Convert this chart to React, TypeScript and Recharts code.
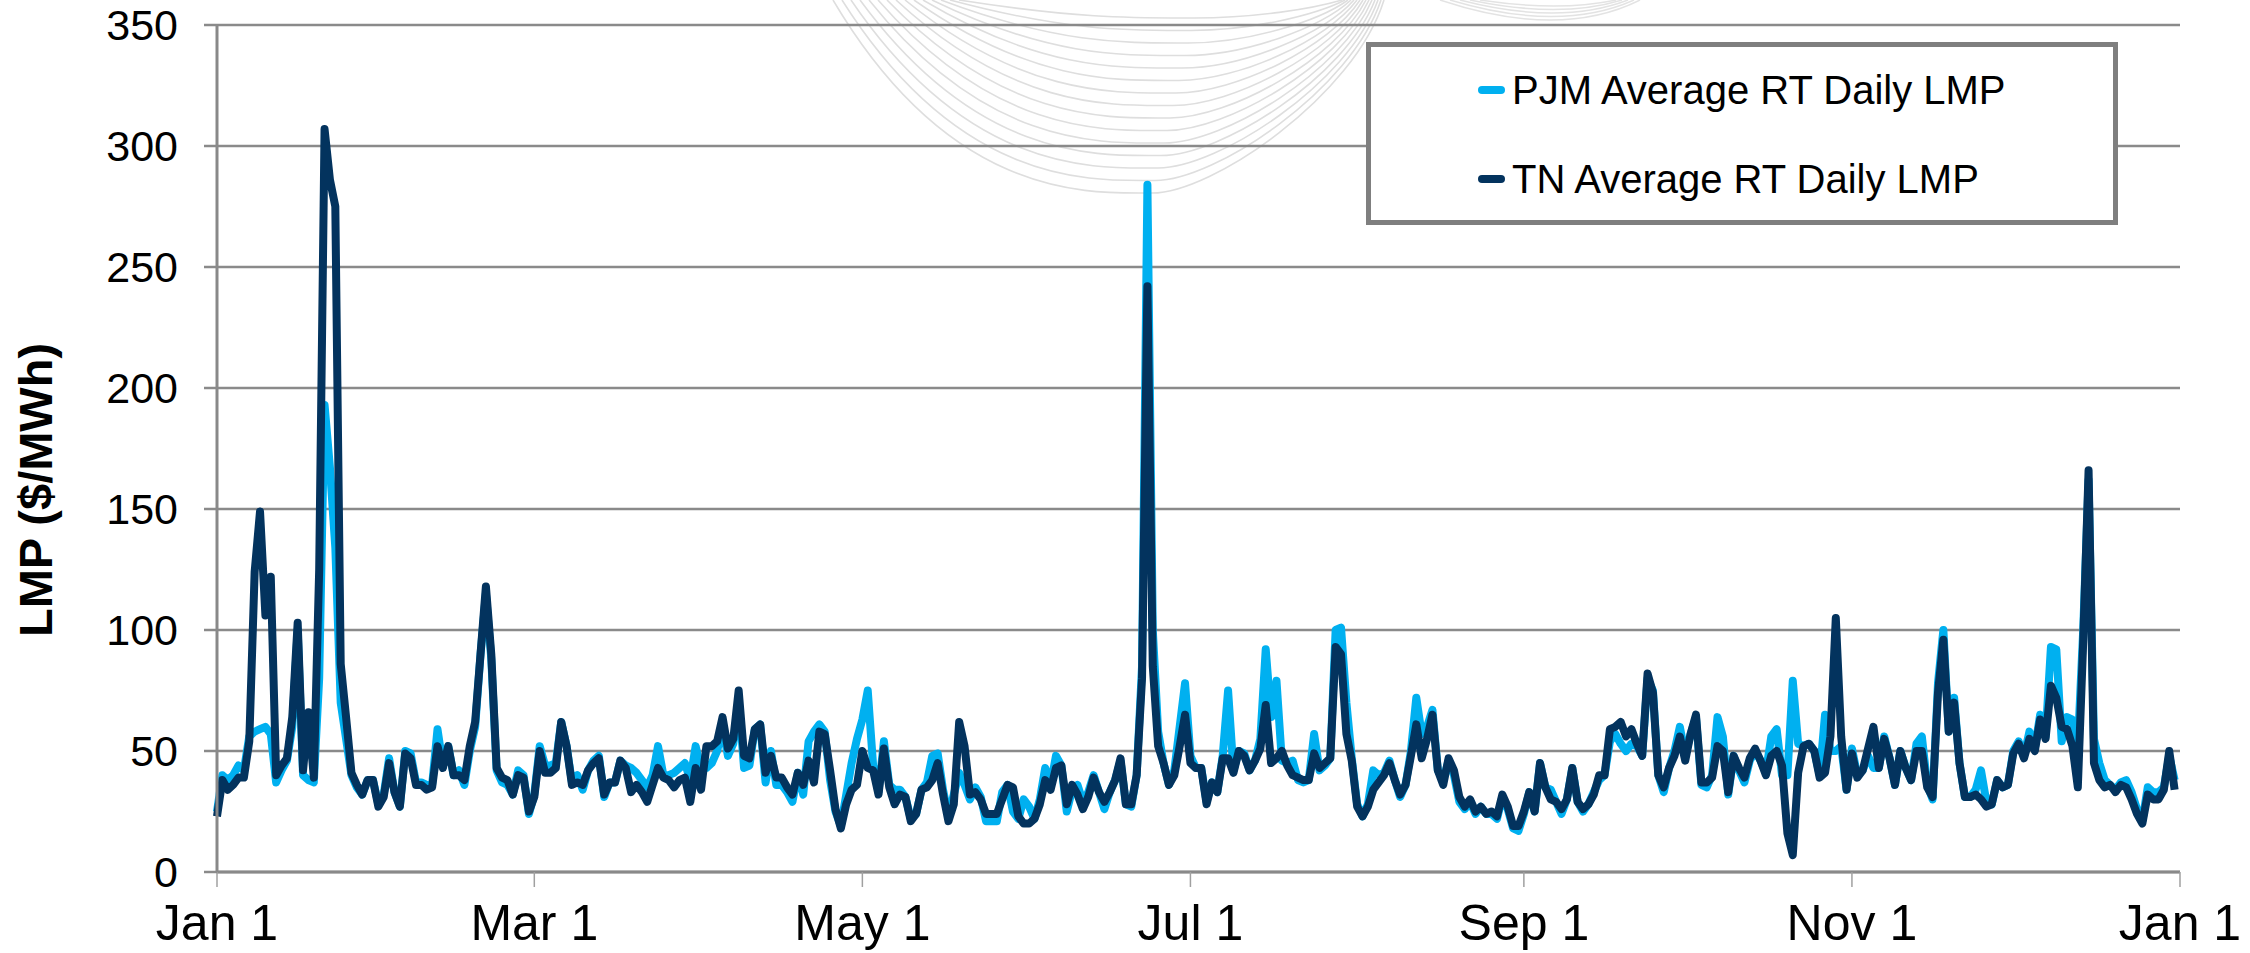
import React from 'react';
import { LineChart, Line, XAxis, YAxis, CartesianGrid } from 'recharts';

// day index 0 = Jan 1, one value per day
const tickDays = [0, 59, 120, 181, 243, 304, 365];
const tickLabels = ['Jan 1', 'Mar 1', 'May 1', 'Jul 1', 'Sep 1', 'Nov 1', 'Jan 1'];
const yTicks = [0, 50, 100, 150, 200, 250, 300, 350];

const pjmDaily = [
  25, 40, 38, 40, 44, 42, 56, 58, 59, 60,
  57, 37, 42, 46, 60, 100, 40, 38, 37, 80,
  193, 167, 134, 70, 55, 40, 35, 32, 38, 38,
  28, 32, 47, 33, 27, 50, 49, 37, 37, 36,
  36, 59, 44, 52, 40, 42, 36, 50, 60, 90,
  115, 88, 42, 37, 36, 32, 42, 40, 24, 32,
  52, 44, 44, 45, 62, 52, 37, 40, 34, 42,
  46, 48, 31, 37, 37, 46, 44, 43, 41, 38,
  35, 40, 52, 40, 40, 41, 43, 45, 38, 52,
  42, 43, 45, 50, 60, 48, 53, 71, 43, 44,
  59, 61, 37, 50, 36, 36, 33, 29, 41, 32,
  54, 58, 61, 58, 38, 25, 19, 32, 45, 55,
  63, 75, 44, 33, 54, 36, 34, 34, 31, 22,
  24, 34, 37, 48, 49, 34, 23, 32, 41, 36,
  30, 35, 31, 21, 21, 21, 33, 36, 25, 22,
  30, 27, 22, 30, 43, 36, 48, 44, 25, 34,
  36, 29, 33, 40, 33, 26, 33, 38, 46, 28,
  27, 40, 85, 284, 100, 58, 45, 36, 42, 60,
  78, 48, 43, 43, 29, 37, 33, 48, 75, 42,
  50, 49, 42, 46, 55, 92, 64, 79, 46, 45,
  46, 38, 37, 38, 57, 42, 44, 47, 100, 101,
  70, 47, 28, 23, 28, 42, 40, 41, 46, 38,
  31, 36, 50, 72, 57, 60, 67, 42, 38, 46,
  40, 29, 26, 29, 24, 27, 24, 24, 22, 31,
  26, 18, 17, 24, 33, 25, 45, 35, 34, 29,
  24, 30, 43, 29, 25, 28, 33, 38, 40, 54,
  57, 53, 50, 53, 52, 48, 80, 75, 40, 33,
  43, 50, 60, 48, 57, 64, 36, 35, 40, 64,
  56, 32, 48, 42, 37, 46, 50, 46, 41, 56,
  59, 40, 40, 79, 53, 52, 53, 50, 40, 65,
  50, 50, 52, 34, 51, 40, 42, 48, 43, 43,
  56, 47, 36, 50, 43, 38, 53, 56, 36, 30,
  78, 100, 58, 72, 45, 31, 31, 34, 42, 29,
  28, 38, 35, 36, 50, 54, 48, 58, 51, 65,
  56, 93, 92, 54, 64, 63, 52, 100, 162, 55,
  45, 38, 36, 34, 37, 38, 33, 26, 21, 35,
  33, 33, 35, 48, 38,
];

const tnDaily = [
  23, 38, 34, 36, 39, 39, 54, 124, 149, 106,
  122, 40, 44, 47, 64, 103, 42, 66, 39, 125,
  307, 286, 275, 86, 64, 41, 36, 32, 38, 38,
  27, 31, 45, 33, 27, 49, 47, 36, 36, 34,
  35, 52, 43, 52, 40, 40, 38, 52, 62, 90,
  118, 90, 43, 39, 38, 32, 40, 39, 25, 31,
  50, 41, 41, 43, 62, 52, 36, 37, 36, 42,
  45, 47, 32, 37, 37, 46, 43, 33, 36, 33,
  29, 36, 43, 39, 38, 35, 38, 39, 29, 43,
  34, 52, 52, 54, 64, 51, 55, 75, 48, 47,
  59, 61, 41, 48, 39, 39, 35, 32, 41, 36,
  46, 37, 58, 57, 42, 26, 18, 28, 34, 36,
  50, 43, 42, 32, 51, 35, 28, 32, 31, 21,
  24, 34, 35, 38, 45, 32, 21, 28, 62, 52,
  32, 33, 30, 24, 24, 24, 30, 36, 35, 23,
  20, 20, 22, 28, 38, 34, 43, 44, 28, 36,
  32, 26, 31, 39, 33, 29, 33, 38, 47, 28,
  28, 40, 80, 242, 85, 52, 45, 36, 40, 52,
  65, 45, 43, 43, 28, 37, 33, 47, 47, 41,
  50, 48, 42, 46, 51, 69, 45, 47, 50, 44,
  40, 39, 38, 38, 49, 43, 45, 47, 93, 90,
  57, 46, 27, 23, 27, 34, 37, 40, 45, 38,
  32, 36, 48, 61, 47, 55, 65, 42, 36, 47,
  42, 31, 27, 30, 25, 27, 24, 25, 23, 32,
  27, 19, 19, 25, 33, 25, 45, 35, 30, 29,
  26, 30, 43, 29, 26, 28, 32, 40, 40, 59,
  60, 62, 56, 59, 53, 48, 82, 74, 40, 35,
  43, 48, 56, 46, 57, 65, 37, 37, 39, 52,
  50, 33, 48, 43, 39, 47, 51, 46, 40, 48,
  50, 44, 16, 7, 41, 52, 53, 50, 39, 41,
  56, 105, 56, 34, 49, 39, 42, 51, 60, 43,
  55, 47, 36, 50, 43, 38, 50, 50, 35, 31,
  74, 96, 58, 70, 45, 31, 31, 32, 30, 27,
  28, 38, 35, 36, 49, 53, 47, 55, 50, 63,
  55, 77, 72, 60, 59, 52, 35, 95, 166, 45,
  38, 35, 36, 33, 36, 35, 30, 24, 20, 32,
  30, 30, 34, 50, 34,
];

const series = [
  { key: 'pjm', name: 'PJM Average RT Daily LMP', color: '#00B0F0' },
  { key: 'tn', name: 'TN Average RT Daily LMP', color: '#03335E' },
];

const data = pjmDaily.map((v, i) => ({ day: i, pjm: v, tn: tnDaily[i] }));

const FONT = '"Liberation Sans", Arial, sans-serif';
const GRID = '#8a8a8a';

// faint background swirl behind the plot
const Watermark = () => {
  const arcs = [];
  for (let k = 0; k < 15; k++) {
    const x0 = 833 + k * 9;
    const x1 = 1384 - k * 3;
    const yb = 193 - k * 12.5;
    const xb = 1152 + k * 3;
    arcs.push(
      <path
        key={k}
        d={`M ${x0} 0 C ${x0 + 120} ${yb * 1.05}, ${xb - 60} ${yb}, ${xb} ${yb} S ${x1 - 30} ${yb * 0.5}, ${x1} 0`}
        fill="none"
        stroke="#dedede"
        strokeWidth={1.6}
      />
    );
  }
  for (let k = 0; k < 5; k++) {
    arcs.push(
      <path
        key={'r' + k}
        d={`M ${1440 + k * 10} 0 Q ${1560} ${40 - k * 7}, ${1640 - k * 6} 0`}
        fill="none"
        stroke="#e3e3e3"
        strokeWidth={1.5}
      />
    );
  }
  return (
    <svg width={2250} height={953} style={{ position: 'absolute', left: 0, top: 0 }}>
      {arcs}
    </svg>
  );
};

const LegendBox = () => (
  <div
    style={{
      position: 'absolute',
      left: 1366,
      top: 42,
      width: 742,
      height: 173,
      border: '5px solid #7f7f7f',
      background: '#fff',
      fontFamily: FONT,
      fontSize: 40,
      color: '#000',
    }}
  >
    {series.map((s, i) => (
      <div
        key={s.key}
        style={{
          position: 'absolute',
          left: 107,
          top: i === 0 ? 20 : 109,
          height: 46,
          display: 'flex',
          alignItems: 'center',
          whiteSpace: 'nowrap',
        }}
      >
        <div style={{ width: 27, height: 8, borderRadius: 4, background: s.color, marginRight: 7 }} />
        <span>{s.name}</span>
      </div>
    ))}
  </div>
);

const App: React.FC = () => {
  return (
    <div style={{ position: 'fixed', left: 0, top: 0, width: 2250, height: 953, background: '#fff', overflow: 'hidden' }}>
      <Watermark />
      <div style={{ position: 'absolute', left: 0, top: 0 }}>
        <LineChart width={2250} height={953} data={data} margin={{ top: 25, right: 70, bottom: 11, left: 117 }}>
          <CartesianGrid vertical={false} stroke={GRID} strokeWidth={2.5} />
          <XAxis
            dataKey="day"
            type="number"
            domain={[0, 365]}
            ticks={tickDays}
            interval={0}
            height={70}
            tickFormatter={(v: number) => tickLabels[tickDays.indexOf(v)]}
            axisLine={{ stroke: '#898989', strokeWidth: 3 }}
            tickLine={{ stroke: '#a0a0a0', strokeWidth: 1.5 }}
            tickSize={15}
            tickMargin={17}
            tick={{ fill: '#000', fontSize: 50, fontFamily: FONT }}
          />
          <YAxis
            domain={[0, 350]}
            ticks={yTicks}
            interval={0}
            width={100}
            axisLine={{ stroke: '#898989', strokeWidth: 3 }}
            tickLine={{ stroke: GRID, strokeWidth: 2.5 }}
            tickSize={13}
            tickMargin={26}
            tick={{ fill: '#000', fontSize: 43, fontFamily: FONT }}
          />
          {series.map((s) => (
            <Line
              key={s.key}
              type="linear"
              dataKey={s.key}
              name={s.name}
              stroke={s.color}
              strokeWidth={8}
              strokeLinejoin="round"
              dot={false}
              isAnimationActive={false}
            />
          ))}
        </LineChart>
      </div>
      <svg width={120} height={953} style={{ position: 'absolute', left: 0, top: 0 }}>
        <text
          transform="translate(52,490) rotate(-90)"
          textAnchor="middle"
          fontFamily={FONT}
          fontWeight="bold"
          fontSize={47}
          fill="#000"
        >
          LMP ($/MWh)
        </text>
      </svg>
      <LegendBox />
    </div>
  );
};

export default App;
